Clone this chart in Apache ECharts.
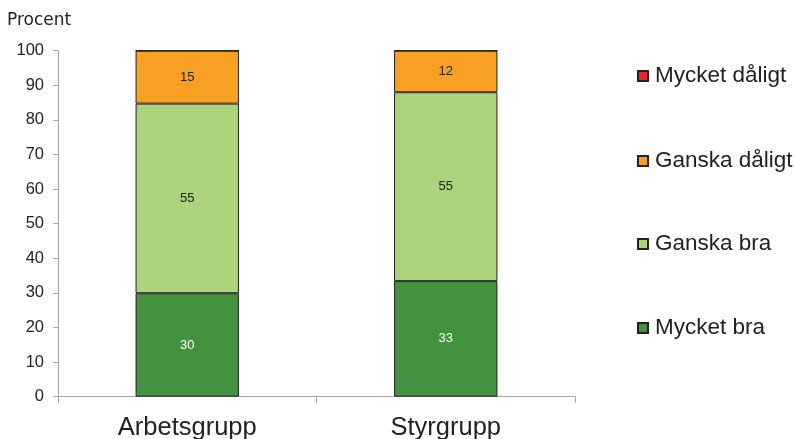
<!DOCTYPE html>
<html>
<head>
<meta charset="utf-8">
<script src="https://cdn.jsdelivr.net/npm/echarts@6/dist/echarts.min.js"></script>
<style>html,body{margin:0;padding:0;background:#fff}#c{width:794px;height:439px}</style>
</head>
<body>
<div id="c"></div>
<script>
const categories = ['Arbetsgrupp', 'Styrgrupp'];
const seriesNames = ['Mycket bra', 'Ganska bra', 'Ganska dåligt', 'Mycket dåligt'];
const mycketBra = [29.9, 33.4];
const ganskaBra = [54.8, 54.6];
const ganskaDaligt = [15.3, 12.0];
const mycketDaligt = [0, 0];
const yTicks = [0, 10, 20, 30, 40, 50, 60, 70, 80, 90, 100];

const colors = ['#43923f', '#add47a', '#f7a021', '#e8262a'];
const values = [mycketBra, ganskaBra, ganskaDaligt, mycketDaligt];
const labelColors = ['#ffffff', '#222222', '#222222', '#222222'];

const chart = echarts.init(document.getElementById('c'));
const legendCenters = [76, 161, 244, 328];
const legendOrder = ['Mycket dåligt', 'Ganska dåligt', 'Ganska bra', 'Mycket bra'];

chart.setOption({
  animation: false,
  graphic: [{
    type: 'text', left: 7, top: 12,
    style: { text: 'Procent', font: '17px "DejaVu Sans"', fill: '#222' }
  }],
  grid: { left: 58, right: 219, top: 50.7, bottom: 42.3, outerBoundsMode: 'none', containLabel: false },
  xAxis: {
    type: 'category', data: categories,
    axisLine: { lineStyle: { color: '#a6a6a6', width: 1 } },
    axisTick: { show: true, length: 6, lineStyle: { color: '#a6a6a6' } },
    axisLabel: { fontFamily: '"Liberation Sans", Arial, sans-serif', fontSize: 25.5, color: '#222', margin: 18 }
  },
  yAxis: {
    type: 'value', min: 0, max: 100, interval: 10,
    splitLine: { show: false },
    axisLine: { show: true, lineStyle: { color: '#a6a6a6', width: 1 } },
    axisTick: { show: true, length: 5, lineStyle: { color: '#a6a6a6' } },
    axisLabel: { fontFamily: '"Liberation Sans", Arial, sans-serif', fontSize: 16.5, color: '#222', margin: 14,
      formatter: v => yTicks.includes(v) ? String(v) : '' }
  },
  legend: legendOrder.map((n, i) => ({
    data: [n], left: 637, top: legendCenters[i] - 12, orient: 'vertical',
    itemWidth: 10, itemHeight: 10, itemGap: 0, icon: 'rect',
    selectedMode: false,
    textStyle: { fontFamily: '"Liberation Sans", Arial, sans-serif', fontSize: 22.5, color: '#222', lineHeight: 24, padding: [0, 0, 0, 2] },
    padding: 0
  })),
  series: seriesNames.map((n, i) => ({
    name: n, type: 'bar', stack: 'total', barWidth: '40%',
    data: values[i],
    itemStyle: { color: colors[i], borderColor: '#222', borderWidth: 1 },
    label: {
      show: i < 3, position: 'inside', fontFamily: '"Liberation Sans", Arial, sans-serif', fontSize: 13,
      color: labelColors[i], formatter: p => Math.round(p.value)
    }
  }))
});
</script>
</body>
</html>
